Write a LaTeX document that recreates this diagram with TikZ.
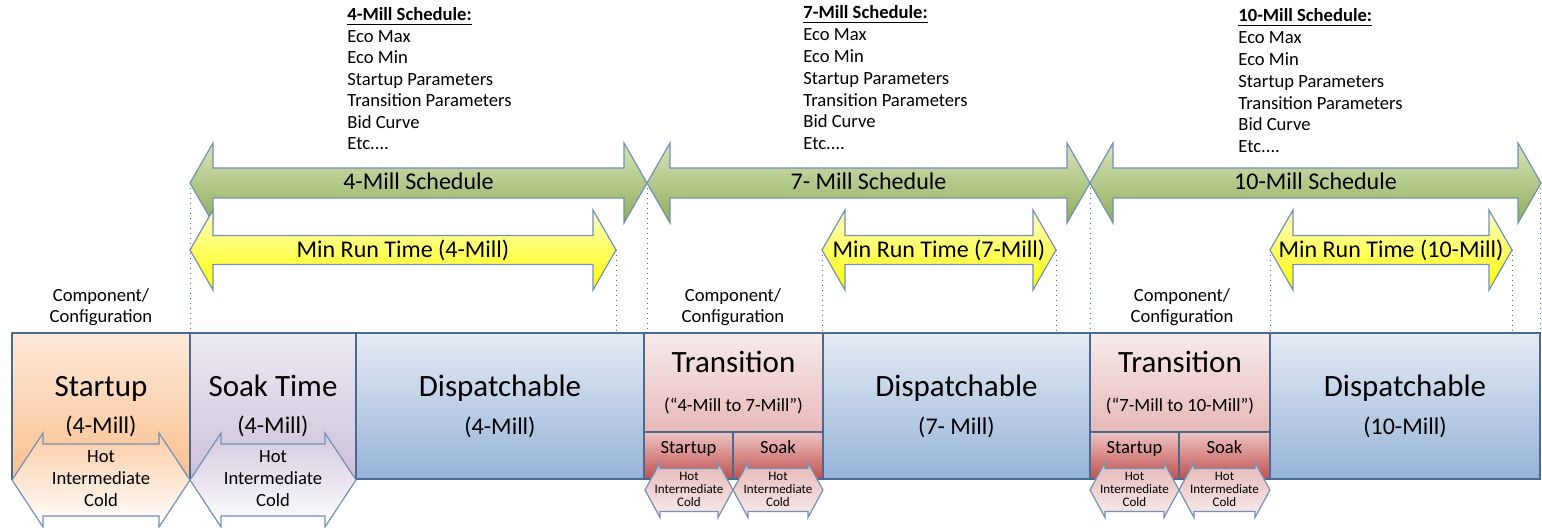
\documentclass[tikz,border=0pt]{standalone}
\usepackage{fontspec}
\setmainfont{Carlito}
\usetikzlibrary{positioning}
\definecolor{boxline}{HTML}{4A6A94}
\definecolor{arrline}{HTML}{7390B5}
\definecolor{guideblue}{HTML}{3F6BB0}
\definecolor{startTop}{HTML}{FDE9D9}
\definecolor{startBot}{HTML}{FAC08F}
\definecolor{soakTop}{HTML}{EDEAF3}
\definecolor{soakBot}{HTML}{CCC0DA}
\definecolor{dispTop}{HTML}{E5EBF5}
\definecolor{dispBot}{HTML}{95B3D7}
\definecolor{transTop}{HTML}{F8EBEB}
\definecolor{transBot}{HTML}{E6B9B8}
\definecolor{subTop}{HTML}{EDC4C3}
\definecolor{subBot}{HTML}{C0504D}
\definecolor{grnTop}{HTML}{D7E4BD}
\definecolor{grnBot}{HTML}{90AD57}
\definecolor{yelTop}{HTML}{FFFFC8}
\definecolor{yelBot}{HTML}{FFFF00}
\tikzset{
    box/.style={draw=boxline, line width=0.6pt},
    startbox/.style={box, top color=startTop, bottom color=startBot},
    soakbox/.style={box, top color=soakTop, bottom color=soakBot},
    dispbox/.style={box, top color=dispTop, bottom color=dispBot},
    transbox/.style={box, top color=transTop, bottom color=transBot},
    subbox/.style={box, top color=subTop, bottom color=subBot},
    arr/.style={draw=arrline, line width=0.6pt},
    sched/.style={arr, top color=grnTop, bottom color=grnBot},
    minrun/.style={arr, top color=yelTop, bottom color=yelBot},
    suhex/.style={arr, top color=startBot!80, bottom color=white},
    sohex/.style={arr, top color=soakBot!85, bottom color=white},
    subhex/.style={arr, top color=transBot, bottom color=transTop},
    guide/.style={draw=guideblue, dotted, line width=0.5pt},
    bigtxt/.style={font=\fontsize{15.5}{18}\selectfont, inner sep=0pt, anchor=base},
    midtxt/.style={font=\fontsize{12}{14}\selectfont, inner sep=0pt, anchor=base},
    smalltxt/.style={font=\fontsize{9.3}{11}\selectfont, inner sep=0pt, anchor=base},
    tinytxt/.style={font=\fontsize{6.5}{7}\selectfont, inner sep=0pt, anchor=base},
    param/.style={font=\fontsize{9.3}{11}\selectfont, inner sep=0pt, anchor=base west}
}

\begin{document}
\begin{tikzpicture}[x=0.5pt, y=-0.5pt]
    \useasboundingbox (0,0) rectangle (1542,528);
    \clip (0,0) rectangle (1542,528);
    % Schedule parameter lists
    \foreach \nm/\x/\y/\s in {4/347/21/21.5, 7/803/19/21.8, 10/1238/22/21.8} {
        \node[param] (h\nm) at (\x,\y) {\textbf{\underline{\nm-Mill Schedule:}}};
        \foreach \t [count=\i] in {Eco Max, Eco Min, Startup Parameters, Transition Parameters, Bid Curve, Etc{....}}
            \node[param] (p\nm-\i) at (\x,\y+\s*\i) {\t};
    }
    % Dotted guides down to the boxes
    \foreach \x/\y in {190/183, 616/250, 647/183, 822/250, 1056/250, 1090/183, 1270/250, 1512/250, 1540/183}
        \draw[guide] (\x,\y) -- (\x,333);
    % Schedule arrows
    \foreach \a/\b/\t [count=\i] in {190/647/4-Mill Schedule, 647/1090/7- Mill Schedule, 1090/1541/10-Mill Schedule} {
        \draw[sched] (\a,183) -- (\a+23,143) -- (\a+23,168) -- (\b-23,168) -- (\b-23,143) -- (\b,183)
            -- (\b-23,223) -- (\b-23,198) -- (\a+23,198) -- (\a+23,223) -- cycle;
        \node[midtxt] (s\i) at ({(\a+\b)/2},190) {\t};
    }
    % Min run time arrows
    \foreach \a/\b/\t [count=\i] in {190/616/4-Mill, 822/1056/7-Mill, 1270/1512/10-Mill} {
        \draw[minrun] (\a,250) -- (\a+23,210) -- (\a+23,235.5) -- (\b-23,235.5) -- (\b-23,210) -- (\b,250)
            -- (\b-23,290) -- (\b-23,264.5) -- (\a+23,264.5) -- (\a+23,290) -- cycle;
        \node[midtxt] (m\i) at ({(\a+\b)/2},258) {Min Run Time (\t)};
    }
    % Component / configuration labels
    \foreach \x [count=\i] in {101, 733, 1182} {
        \node[smalltxt] (c\i) at (\x,302) {Component/};
        \node[smalltxt] (cc\i) at (\x,323) {Configuration};
    }
    % Boxes
    \draw[startbox] (12,333) rectangle (190,479);
    \draw[soakbox] (190,333) rectangle (356,479);
    \draw[dispbox] (356,333) rectangle (644,479);
    \draw[transbox] (644,333) rectangle (823,432);
    \draw[subbox] (644,432) rectangle (733,479);
    \draw[subbox] (733,432) rectangle (823,479);
    \draw[dispbox] (823,333) rectangle (1090,479);
    \draw[transbox] (1090,333) rectangle (1270,432);
    \draw[subbox] (1090,432) rectangle (1179,479);
    \draw[subbox] (1179,432) rectangle (1270,479);
    \draw[dispbox] (1270,333) rectangle (1540,479);
    % Box labels
    \node[bigtxt] (su) at (101,397) {Startup};
    \node[midtxt] (su4) at (101,434) {(4-Mill)};
    \node[bigtxt] (so) at (273,397) {Soak Time};
    \node[midtxt] (so4) at (273,434) {(4-Mill)};
    \node[bigtxt] (d4) at (500,397) {Dispatchable};
    \node[midtxt] (d4m) at (500,435) {(4-Mill)};
    \node[bigtxt] (d7) at (956.5,397) {Dispatchable};
    \node[midtxt] (d7m) at (956.5,435) {(7- Mill)};
    \node[bigtxt] (d10) at (1405,397) {Dispatchable};
    \node[midtxt] (d10m) at (1405,435) {(10-Mill)};
    \node[bigtxt] (t1) at (733.5,373) {Transition};
    \node[smalltxt] (t1m) at (733.5,412) {(“4-Mill to 7-Mill”)};
    \node[bigtxt] (t2) at (1180,373) {Transition};
    \node[smalltxt] (t2m) at (1180,412) {(“7-Mill to 10-Mill”)};
    \foreach \x/\t [count=\i] in {688.5/Startup, 778/Soak, 1134.5/Startup, 1224.5/Soak}
        \node[smalltxt] (sb\i) at (\x,454) {\t};
    % Hot / intermediate / cold arrows
    \foreach \a/\b/\st [count=\k] in {12/190/suhex, 190/356/sohex} {
        \draw[\st] (\a,480) -- (\a+31,433) -- (\a+31,444) -- (\b-31,444) -- (\b-31,433) -- (\b,480)
            -- (\b-31,527) -- (\b-31,516) -- (\a+31,516) -- (\a+31,527) -- cycle;
        \foreach \t [count=\i] in {Hot, Intermediate, Cold}
            \node[smalltxt] (hx\k-\i) at ({(\a+\b)/2},441+22*\i) {\t};
    }
    \foreach \a/\b [count=\k] in {645/733, 733/823, 1090/1179, 1179/1270} {
        \draw[subhex] (\a,490) -- (\a+15,462.5) -- (\a+15,468.5) -- (\b-15,468.5) -- (\b-15,462.5) -- (\b,490)
            -- (\b-15,517.5) -- (\b-15,511.5) -- (\a+15,511.5) -- (\a+15,517.5) -- cycle;
        \foreach \t [count=\i] in {Hot, Intermediate, Cold}
            \node[tinytxt] (sx\k-\i) at ({(\a+\b)/2},468+13*\i) {\t};
    }
\end{tikzpicture}
\end{document}
